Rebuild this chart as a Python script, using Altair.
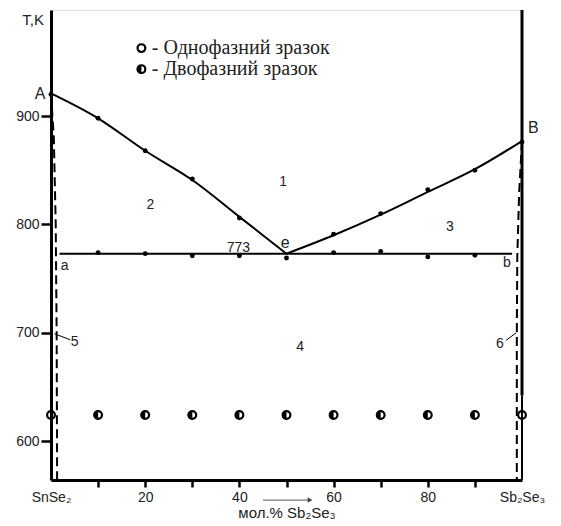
import math
import altair as alt
import pandas as pd

# ---- data ----
liq_left_x = [0, 10, 20, 30, 40, 50]
liq_left_T = [921, 898, 868, 841, 807, 773]
liq_right_x = [50, 60, 70, 80, 90, 100]
liq_right_T = [773, 790, 809, 830, 851, 877]

dta_liq_x = [0, 10, 20, 30, 40, 60, 70, 80, 90, 100]
dta_liq_T = [920, 898, 868, 842, 806, 791, 810, 832, 850, 876]

eut_x_start, eut_x_end, eut_T = 1.8, 97.9, 773
dta_eut_x = [10, 20, 30, 40, 50, 60, 70, 80, 90]
dta_eut_T = [774, 773, 771, 771, 769, 774, 775, 770, 771.5]

sol_left_x = [0, 0.6, 1.0, 1.2, 1.3]
sol_left_T = [921, 880, 800, 700, 564]
sol_right_x = [100, 99.4, 99.0, 98.9, 98.9]
sol_right_T = [877, 830, 770, 700, 564]

single_x = [0, 100]
two_x = [10, 20, 30, 40, 50, 60, 70, 80, 90]
sample_T = 624

x_ticks = [0, 10, 20, 30, 40, 50, 60, 70, 80, 90, 100]
y_ticks = [600, 700, 800, 900]

labels_txt = ["1", "2", "3", "4", "5", "6", "a", "b", "e", "773", "A", "B", "T,K"]
labels_x = [49.3, 21.1, 84.7, 52.9, 5.0, 95.3, 2.9, 96.8, 49.7, 39.8, -2.3, 102.4, -3.8]
labels_T = [839, 818, 797.5, 686.7, 691, 690, 762, 764, 783, 778, 920, 889, 988.5]
labels_fs = [14, 14, 14, 14, 14, 14, 14, 14, 16, 14, 16, 16, 15]

legend_txt = ["- Однофазний зразок", "- Двофазний зразок"]
legend_x = 19.2
legend_T = [962.8, 943.4]

XD = [0, 100]
YD = [564, 998]
xs = alt.Scale(domain=XD, nice=False, zero=False)
ys = alt.Scale(domain=YD, nice=False, zero=False)

# ---- tables ----
liq = pd.DataFrame({
    "x": liq_left_x + liq_right_x,
    "T": liq_left_T + liq_right_T,
    "s": ["L"] * len(liq_left_x) + ["R"] * len(liq_right_x),
})
sol = pd.DataFrame({
    "x": sol_left_x + sol_right_x,
    "T": sol_left_T + sol_right_T,
    "s": ["L"] * len(sol_left_x) + ["R"] * len(sol_right_x),
    "i": list(range(len(sol_left_x))) + list(range(len(sol_right_x))),
})
dots = pd.DataFrame({"x": dta_liq_x + dta_eut_x, "T": dta_liq_T + dta_eut_T})
eut = pd.DataFrame({"x": [eut_x_start], "x2": [eut_x_end], "T": [eut_T]})
single = pd.DataFrame({"x": single_x + [legend_x], "T": [sample_T] * 2 + [legend_T[0]]})
two = pd.DataFrame({"x": two_x + [legend_x], "T": [sample_T] * len(two_x) + [legend_T[1]]})
labels = pd.DataFrame({"t": labels_txt, "x": labels_x, "T": labels_T, "fs": labels_fs})
legend = pd.DataFrame({"t": legend_txt, "x": [legend_x + 2.2] * 2, "T": legend_T})
leaders = pd.DataFrame({"x": [0.75, 96.6], "x2": [4.1, 98.8], "T": [699, 693], "T2": [693.5, 700]})
right_bound = pd.DataFrame({"x": [100, 100], "T": [998, 642], "T2": [642, 564], "w": [3, 2]})
arrow = pd.DataFrame({"x": [45.0], "x2": [55.0], "T": [545.5]})

X = lambda f="x:Q", **k: alt.X(f, scale=xs, **k)
Y = lambda f="T:Q", **k: alt.Y(f, scale=ys, **k)

base_axes = alt.Chart(liq).mark_line(color="black", strokeWidth=2, interpolate="monotone").encode(
    x=alt.X("x:Q", scale=xs, axis=alt.Axis(
        values=x_ticks, grid=False, title="мол.% Sb₂Se₃",
        labelExpr="datum.value == 0 ? 'SnSe₂' : datum.value == 100 ? 'Sb₂Se₃' : (datum.value % 20 == 0 ? datum.label : '')",
        tickSize=7, tickWidth=2.5, tickColor="black",
        tickOpacity={"condition": {"test": "datum.value == 0 || datum.value == 100", "value": 0}, "value": 1},
        domainColor="black", domainWidth=3, labelFont="Liberation Sans", labelFontSize=14,
        labelColor="#222", labelPadding=3, titleFont="Liberation Sans", titleFontSize=15,
        titleFontWeight="normal", titleColor="#222", titlePadding=1, labelFlush=False)),
    y=alt.Y("T:Q", scale=ys, axis=alt.Axis(
        values=y_ticks, grid=False, title=None, tickSize=10, tickWidth=2.5, tickColor="black",
        domainColor="black", domainWidth=3, labelFont="Liberation Sans", labelFontSize=14,
        labelColor="#222", labelPadding=2)),
    detail="s:N",
)

sol_layer = alt.Chart(sol).mark_line(color="black", strokeWidth=2, strokeDash=[9, 5]).encode(
    x=X(), y=Y(), detail="s:N", order="i:Q")

eut_layer = alt.Chart(eut).mark_rule(color="black", strokeWidth=2).encode(x=X(), x2="x2:Q", y=Y())

dots_layer = alt.Chart(dots).mark_circle(color="black", size=24, opacity=1).encode(x=X(), y=Y())

bound_layer = alt.Chart(right_bound).mark_rule(color="black").encode(
    x=X(), y=Y(), y2="T2:Q", strokeWidth=alt.StrokeWidth("w:Q", scale=None))

half_layer = alt.Chart(two).mark_arc(color="black").encode(
    x=X(), y=Y(), radius=alt.value(4.5), theta=alt.value(math.pi), theta2=alt.value(2 * math.pi))

ring_all = pd.concat([single, two], ignore_index=True)
ring_layer = alt.Chart(ring_all).mark_point(shape="circle", filled=False, color="black",
                                           strokeWidth=2.2, size=60, opacity=1).encode(x=X(), y=Y())

lab_layer = alt.Chart(labels).mark_text(font="Liberation Sans", color="#222", baseline="middle",
                                        align="center").encode(
    x=X(), y=Y(), text="t:N", size=alt.Size("fs:Q", scale=None))

leader_layer = alt.Chart(leaders).mark_rule(color="black", strokeWidth=1).encode(
    x=X(), x2="x2:Q", y=Y(), y2="T2:Q")

legend_layer = alt.Chart(legend).mark_text(font="Liberation Serif", fontSize=20, color="#222",
                                           align="left", baseline="middle").encode(
    x=X(), y=Y(), text="t:N")

arrow_line = alt.Chart(arrow).mark_rule(color="#777", strokeWidth=1.2).encode(x=X(), x2="x2:Q", y=Y())
arrow_head = alt.Chart(arrow).mark_point(shape="triangle-right", filled=True, color="#444", size=30,
                                         opacity=1).encode(x=X("x2:Q"), y=Y())

chart = alt.layer(
    base_axes, sol_layer, eut_layer, bound_layer, dots_layer, half_layer, ring_layer,
    leader_layer, lab_layer, legend_layer, arrow_line, arrow_head,
).properties(
    width=471, height=470,
    autosize=alt.AutoSizeParams(type="none"),
    padding={"left": 43, "top": 2, "right": 30, "bottom": 42},
).configure_view(stroke=None).configure(background="white")

chart.save("out.html", embed_options={"renderer": "svg", "actions": False})
